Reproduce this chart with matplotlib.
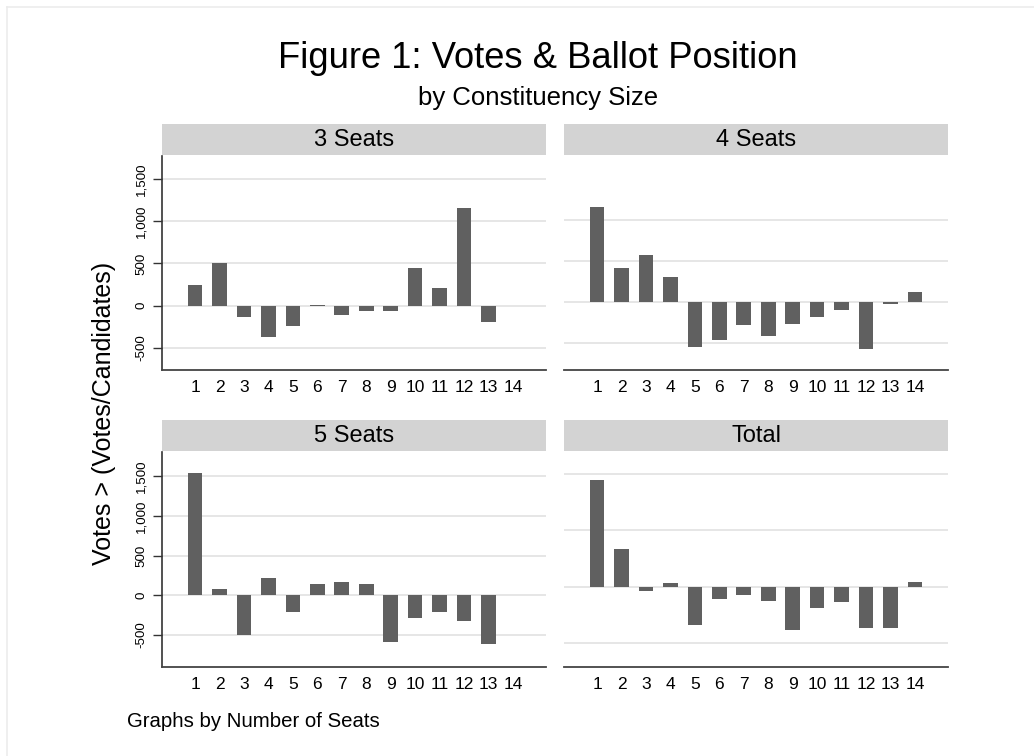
import matplotlib
matplotlib.use('Agg')
import matplotlib.pyplot as plt
from matplotlib.lines import Line2D

# ballot positions and votes above the quota
positions = list(range(1, 15))
seats3 = [245, 500, -137, -366, -240, 8, -110, -62, -62, 450, 205, 1150, -196, 0]
seats4 = [1162, 414, 573, 309, -553, -463, -276, -411, -264, -183, -93, -569, -28, 126]
seats5 = [1540, 76, -510, 211, -211, 143, 160, 143, -591, -291, -211, -333, -620, -5]
total = [944, 331, -41, 33, -336, -109, -76, -124, -383, -186, -135, -363, -363, 44]

panel_titles = ['3 Seats', '4 Seats', '5 Seats', 'Total']
panel_values = [seats3, seats4, seats5, total]
y_ticks = [-500, 0, 500, 1000, 1500]
y_tick_labels = ['-500', '0', '500', '1,000', '1,500']

plt.rcParams['font.family'] = ['Liberation Sans', 'DejaVu Sans']

W, H = 1034, 756
fig = plt.figure(figsize=(W / 100, H / 100), dpi=100)
fig.patch.set_facecolor('white')


def px_box(x0, y0, x1, y1):
    # pixel box (top-left origin) -> figure fraction rect
    return [x0 / W, (H - y1) / H, (x1 - x0) / W, (y1 - y0) / H]


# faint frame around the graph region
fig.add_artist(Line2D([7 / W, 1], [1 - 7 / H, 1 - 7 / H], transform=fig.transFigure,
                      color='#ececec', lw=1.2))
fig.add_artist(Line2D([7 / W, 7 / W], [0, 1 - 7 / H], transform=fig.transFigure,
                      color='#ececec', lw=1.2))

# panel layout: (x0, x1, strip_top, plot_top, plot_bottom, ylim, ticks shown)
layout = [
    (162, 546, 124, 156, 370, (-760, 1770), True),
    (564, 948, 124, 156, 370, (-829, 1780), False),
    (162, 546, 420, 452, 667, (-911, 1810), True),
    (564, 948, 420, 452, 667, (-711, 1192), False),
]

bar_color = '#606060'
grid_color = '#e6e6e6'

for (x0, x1, st, pt, pb, ylim, show_y), title, vals in zip(layout, panel_titles, panel_values):
    # strip header
    sax = fig.add_axes(px_box(x0, st, x1, pt - 1))
    sax.set_facecolor('#d3d3d3')
    sax.set_xticks([])
    sax.set_yticks([])
    for s in sax.spines.values():
        s.set_visible(False)
    sax.text(0.5, 0.5, title, ha='center', va='center', fontsize=17, transform=sax.transAxes)

    ax = fig.add_axes(px_box(x0, pt, x1, pb))
    ax.bar(positions, vals, width=0.6, color=bar_color, zorder=3)
    ax.set_xlim(-0.35, 15.35)
    ax.set_ylim(*ylim)
    ax.set_xticks(positions)
    ax.set_xticklabels([str(p) for p in positions], fontsize=12.5)
    ax.tick_params(axis='x', length=0, pad=7)

    if show_y:
        ax.set_yticks(y_ticks)
        ax.set_yticklabels(y_tick_labels, rotation=90, va='center', fontsize=9.6)
        ax.tick_params(axis='y', length=6.5, width=1, color='#333333', pad=4)
        ax.spines['left'].set_color('#333333')
        ax.spines['left'].set_linewidth(1.2)
    else:
        ax.set_yticks([t for t in y_ticks if ylim[0] < t < ylim[1] and t <= 1000])
        ax.set_yticklabels([])
        ax.tick_params(axis='y', length=0)
        ax.spines['left'].set_visible(False)

    ax.grid(axis='y', color=grid_color, linewidth=1.4, zorder=0)
    ax.spines['top'].set_visible(False)
    ax.spines['right'].set_visible(False)
    ax.spines['bottom'].set_color('#444444')
    ax.spines['bottom'].set_linewidth(1.3)

fig.text(538 / W, 1 - 68 / H, 'Figure 1: Votes & Ballot Position', ha='center', va='baseline',
         fontsize=26.2)
fig.text(538 / W, 1 - 105 / H, 'by Constituency Size', ha='center', va='baseline', fontsize=18.5)
fig.text(104 / W, 1 - 413 / H, 'Votes > (Votes/Candidates)', rotation=90, ha='center',
         va='center', fontsize=18)
fig.text(127 / W, 1 - 727 / H, 'Graphs by Number of Seats', ha='left', va='baseline', fontsize=14.7)

fig.savefig('out.png', dpi=100)
